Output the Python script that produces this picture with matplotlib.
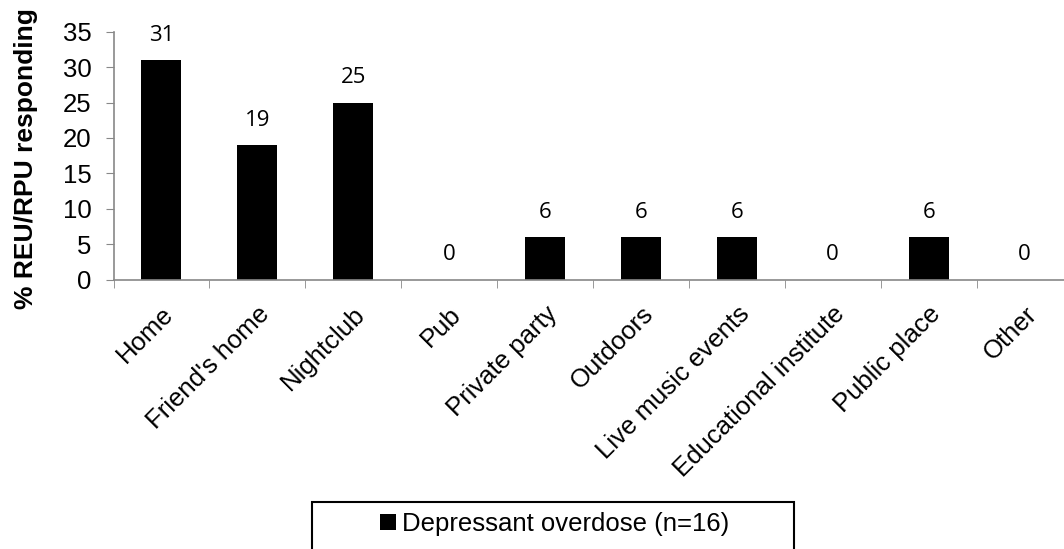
import numpy as np
import matplotlib.pyplot as plt
from matplotlib.patches import Rectangle

categories = ['Home', "Friend's home", 'Nightclub', 'Pub', 'Private party',
              'Outdoors', 'Live music events', 'Educational institute',
              'Public place', 'Other']
values = [31, 19, 25, 0, 6, 6, 6, 0, 6, 0]
series_name = 'Depressant overdose (n=16)'

plt.rcParams['font.family'] = ['Liberation Sans', 'DejaVu Sans']

fig = plt.figure(figsize=(10.64, 5.49), dpi=100)
# axis runs past the right edge like the original (cropped)
ax = fig.add_axes([113.5 / 1064, 1 - 279.7 / 549, 959 / 1064, (279.7 - 31.7) / 549])

x = np.arange(len(categories))
bars = ax.bar(x, values, width=0.417, color='black', label=series_name)

for xi, v in zip(x, values):
    ax.annotate(str(v), (xi, v), xytext=(0, 18), textcoords='offset points',
                ha='center', va='center', fontsize=16, family='Open Sans')

ax.set_xlim(-0.5, len(categories) - 0.5)
ax.set_ylim(0, 35)
ax.set_yticks(np.arange(0, 36, 5))
ax.set_xticks(x)
ax.set_xticklabels(categories, rotation=45, ha='right', rotation_mode='anchor', fontsize=18.5)
ax.set_xticks(np.arange(-0.5, len(categories), 1), minor=True)
ax.tick_params(axis='x', which='major', length=0, pad=16)
ax.tick_params(axis='x', which='minor', length=6, color='#888888')
ax.tick_params(axis='y', length=6, color='#888888', labelsize=18.5, pad=10)

for s in ['top', 'right']:
    ax.spines[s].set_visible(False)
for s in ['left', 'bottom']:
    ax.spines[s].set_color('#888888')
    ax.spines[s].set_linewidth(1.2)

ax.set_ylabel('% REU/RPU responding', fontsize=19, fontweight='bold')
ax.yaxis.set_label_coords((38 - 113.5) / 959, 0.49)

fig.patches.append(Rectangle((312 / 1064, -0.05), 482 / 1064, 0.05 + 47 / 549,
                             transform=fig.transFigure, fill=False,
                             edgecolor='black', linewidth=1.5))
fig.legend(handles=[bars], labels=[series_name], loc='center',
           bbox_to_anchor=(555 / 1064, 1 - 524 / 549), frameon=False,
           fontsize=18.5, handlelength=0.6, handleheight=0.6, handletextpad=0.25)

fig.savefig('out.png', dpi=100)
